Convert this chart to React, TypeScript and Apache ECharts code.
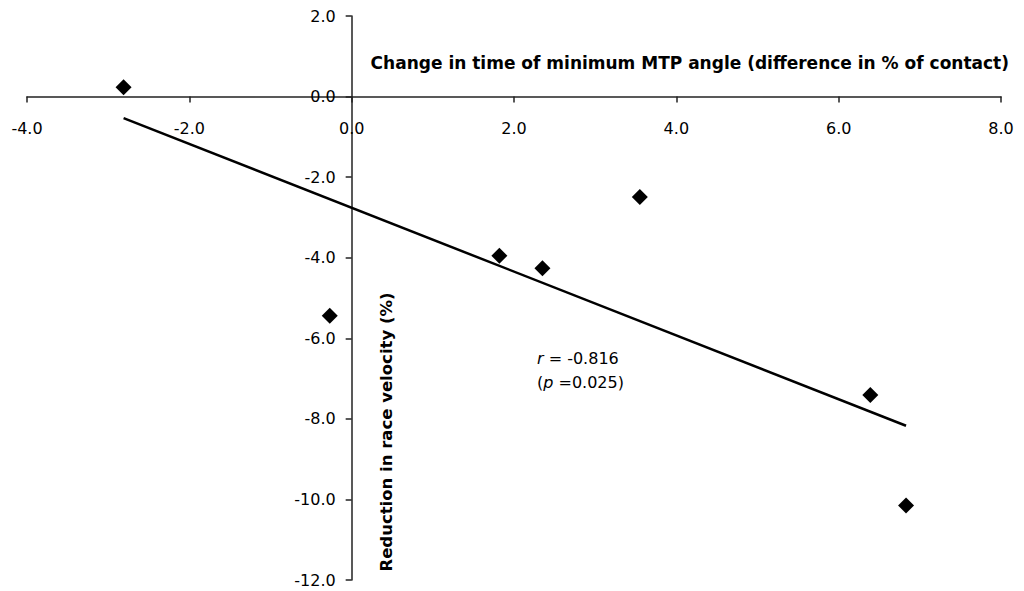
import React, { useEffect, useRef } from "react";
import * as echarts from "echarts";

// Change in time of minimum MTP angle (x) vs reduction in race velocity (y)
const xValues = [-2.81, -0.27, 1.82, 2.35, 3.55, 6.39, 6.83];
const yValues = [0.23, -5.44, -3.95, -4.26, -2.49, -7.41, -10.15];
const xTicks = { min: -4, max: 8, interval: 2 };
const yTicks = { min: -12, max: 2, interval: 2 };
const xTitle = "Change in time of minimum MTP angle (difference in % of contact)";
const yTitle = "Reduction in race velocity (%)";
const statR = "-0.816";
const statP = "0.025";

const FONT = "DejaVu Sans";
const W = 1024;
const H = 591;
const GRID = { left: 27, right: 23, top: 16, bottom: 11 };

function regression(xs: number[], ys: number[]) {
  const n = xs.length;
  const mx = xs.reduce((a, b) => a + b, 0) / n;
  const my = ys.reduce((a, b) => a + b, 0) / n;
  let sxy = 0;
  let sxx = 0;
  for (let i = 0; i < n; i++) {
    sxy += (xs[i] - mx) * (ys[i] - my);
    sxx += (xs[i] - mx) * (xs[i] - mx);
  }
  const slope = sxy / sxx;
  return { slope, intercept: my - slope * mx };
}

export default function App() {
  const ref = useRef<HTMLDivElement>(null);
  useEffect(() => {
    if (!ref.current) return;
    const chart = echarts.init(ref.current, undefined, { renderer: "svg" });
    const { slope, intercept } = regression(xValues, yValues);
    const x0 = Math.min(...xValues);
    const x1 = Math.max(...xValues);
    const trend = [
      [x0, intercept + slope * x0],
      [x1, intercept + slope * x1],
    ];
    const points = xValues.map((x, i) => [x, yValues[i]]);
    const axisColor = "#222";
    // place axes through the origin (axes cross at 0,0)
    const gw = W - GRID.left - GRID.right;
    const gh = H - GRID.top - GRID.bottom;
    const xOffset = -(gh * (0 - yTicks.min)) / (yTicks.max - yTicks.min);
    const yOffset = -(gw * (0 - xTicks.min)) / (xTicks.max - xTicks.min);
    chart.setOption({
      animation: false,
      backgroundColor: "#fff",
      textStyle: { fontFamily: FONT },
      grid: { ...GRID, containLabel: false, outerBoundsMode: "none" },
      xAxis: {
        type: "value",
        position: "bottom",
        offset: xOffset,
        min: xTicks.min,
        max: xTicks.max,
        interval: xTicks.interval,
        axisLine: { onZero: false, lineStyle: { color: axisColor, width: 1.5 } },
        axisTick: { show: true, length: 6, lineStyle: { color: axisColor, width: 1.5 } },
        axisLabel: {
          margin: 24,
          fontSize: 16,
          color: "#000",
          fontFamily: FONT,
          formatter: (v: number) => v.toFixed(1),
        },
        splitLine: { show: false },
      },
      yAxis: {
        type: "value",
        position: "left",
        offset: yOffset,
        min: yTicks.min,
        max: yTicks.max,
        interval: yTicks.interval,
        axisLine: { onZero: false, lineStyle: { color: axisColor, width: 1.5 } },
        axisTick: { show: true, length: 6, lineStyle: { color: axisColor, width: 1.5 } },
        axisLabel: {
          margin: 16,
          fontSize: 16,
          color: "#000",
          fontFamily: FONT,
          formatter: (v: number) => v.toFixed(1),
        },
        splitLine: { show: false },
      },
      graphic: [
        {
          type: "text",
          x: 1009,
          y: 63,
          style: {
            text: xTitle,
            fontFamily: FONT,
            fontWeight: "bold",
            fontSize: 17,
            fill: "#000",
            align: "right",
            verticalAlign: "middle",
          },
        },
        {
          type: "text",
          x: 386,
          y: 432,
          rotation: Math.PI / 2,
          style: {
            text: yTitle,
            fontFamily: FONT,
            fontWeight: "bold",
            fontSize: 16.5,
            fill: "#000",
            align: "center",
            verticalAlign: "middle",
          },
        },
        {
          type: "text",
          x: 537,
          y: 370,
          style: {
            text: `{i|r} = ${statR}\n({i|p} =${statP})`,
            fontFamily: FONT,
            fontSize: 16,
            lineHeight: 24,
            fill: "#000",
            align: "left",
            verticalAlign: "middle",
            rich: {
              i: { fontStyle: "italic", fontFamily: FONT, fontSize: 16, fill: "#000", lineHeight: 24 },
            },
          },
        },
      ],
      series: [
        {
          type: "line",
          data: trend,
          showSymbol: false,
          symbol: "none",
          lineStyle: { color: "#000", width: 2.5 },
          silent: true,
          z: 2,
        },
        {
          type: "scatter",
          data: points,
          symbol: "diamond",
          symbolSize: 16,
          itemStyle: { color: "#000", opacity: 1 },
          z: 3,
        },
      ],
    });
    return () => chart.dispose();
  }, []);
  return (
    <div
      ref={ref}
      style={{ position: "absolute", left: 0, top: 0, width: W, height: H }}
    />
  );
}
